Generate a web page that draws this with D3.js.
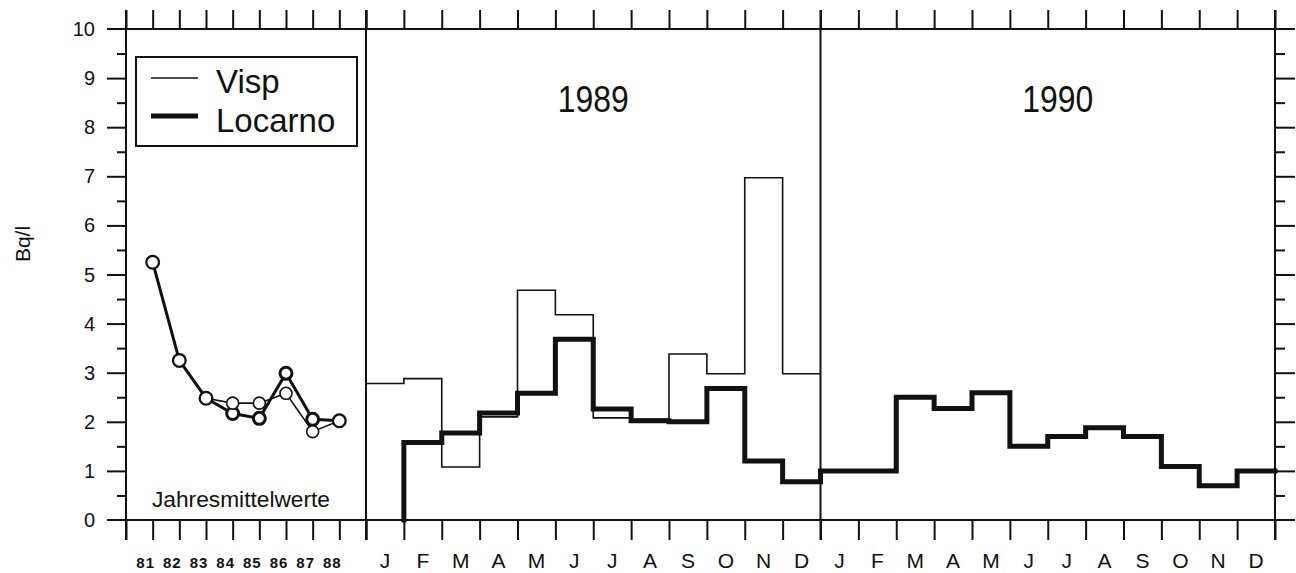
<!DOCTYPE html>
<html>
<head>
<meta charset="utf-8">
<script src="https://cdn.jsdelivr.net/npm/d3@7"></script>
<style>
  body { margin: 0; background: #fff; }
  svg { display: block; }
  text { font-family: "Liberation Sans", Arial, sans-serif; fill: #111; }
</style>
</head>
<body>
<svg id="chart" width="1296" height="573"></svg>
<script>
// annual means 1981-1988
var years = [81, 82, 83, 84, 85, 86, 87, 88];
var vispYear = [5.25, 3.25, 2.48, 2.38, 2.38, 2.58, 1.8, 2.02];
var locarnoYear = [5.25, 3.25, 2.48, 2.17, 2.07, 2.99, 2.05, 2.02];

// monthly values, 1989 + 1990 (24 months)
var months = ["J", "F", "M", "A", "M", "J", "J", "A", "S", "O", "N", "D"];
var vispMonth = [2.78, 2.88, 1.08, 2.1, 4.68, 4.18, 2.08, 2.05, 3.38, 2.98, 6.97, 2.98];
var locarnoMonth = [null, 1.58, 1.77, 2.18, 2.58, 3.68, 2.26, 2.02, 2.0, 2.68, 1.2, 0.78,
                    1.0, 1.0, 2.5, 2.27, 2.59, 1.5, 1.7, 1.88, 1.7, 1.09, 0.7, 1.0];
var panelYears = ["1989", "1990"];
var seriesNames = ["Visp", "Locarno"];

var ink = "#111";
var svg = d3.select("#chart");

var y = d3.scaleLinear().domain([0, 10]).range([520, 29]);
var xYear = d3.scaleLinear().domain([80, 89]).range([126, 366]);
var xMonth = d3.scaleLinear().domain([0, 24]).range([366, 1275]);

// frame lines
svg.append("g").selectAll("line")
  .data([0, 10])
  .enter()
  .append("line")
    .attr("x1", 107).attr("x2", 1295)
    .attr("y1", function(d) { return y(d); })
    .attr("y2", function(d) { return y(d); })
    .attr("stroke", ink).attr("stroke-width", 2);

function tickAxis(axis, g) {
    g.call(axis);
    g.select(".domain").remove();
    g.selectAll(".tick line").attr("stroke", ink).attr("stroke-width", 2);
    g.selectAll(".tick text").remove();
}

// top + bottom ticks
var yearTicks = d3.range(80, 90);
var monthTicks = d3.range(0, 25);
tickAxis(d3.axisTop(xYear).tickValues(yearTicks).tickSize(19),
         svg.append("g").attr("transform", "translate(0," + y(10) + ")"));
tickAxis(d3.axisTop(xMonth).tickValues(monthTicks).tickSize(19),
         svg.append("g").attr("transform", "translate(0," + y(10) + ")"));
tickAxis(d3.axisBottom(xYear).tickValues(yearTicks).tickSize(20),
         svg.append("g").attr("transform", "translate(0," + y(0) + ")"));
tickAxis(d3.axisBottom(xMonth).tickValues(monthTicks).tickSize(20),
         svg.append("g").attr("transform", "translate(0," + y(0) + ")"));

// panel separators / side axes
svg.append("g").selectAll("line")
  .data([xYear(80), xMonth(0), xMonth(12), xMonth(24)])
  .enter()
  .append("line")
    .attr("x1", function(d) { return d; })
    .attr("x2", function(d) { return d; })
    .attr("y1", 10).attr("y2", 540)
    .attr("stroke", ink).attr("stroke-width", 2);

// y ticks, left and right
var major = d3.range(1, 10);
var minor = d3.range(0.5, 10, 1);
tickAxis(d3.axisLeft(y).tickValues(major).tickSize(19),
         svg.append("g").attr("transform", "translate(126,0)"));
tickAxis(d3.axisLeft(y).tickValues(minor).tickSize(9),
         svg.append("g").attr("transform", "translate(126,0)"));
tickAxis(d3.axisRight(y).tickValues(major).tickSize(20),
         svg.append("g").attr("transform", "translate(1275,0)"));
tickAxis(d3.axisRight(y).tickValues(minor).tickSize(10),
         svg.append("g").attr("transform", "translate(1275,0)"));

svg.append("g").selectAll("text")
  .data(d3.range(0, 11))
  .enter()
  .append("text")
    .attr("x", 95)
    .attr("y", function(d) { return y(d) + 7; })
    .attr("text-anchor", "end")
    .style("font-size", "20px")
    .text(function(d) { return d; });

svg.append("text")
  .attr("transform", "translate(30,244) rotate(-90)")
  .attr("text-anchor", "middle")
  .style("font-size", "21px")
  .text("Bq/l");

// x labels
svg.append("g").selectAll("text")
  .data(years)
  .enter()
  .append("text")
    .attr("x", function(d) { return xYear(d) - 7; })
    .attr("y", 568)
    .attr("text-anchor", "middle")
    .style("font-size", "15px")
    .style("font-weight", "bold")
    .style("letter-spacing", "1px")
    .text(function(d) { return d; });

svg.append("g").selectAll("text")
  .data(d3.range(0, 24))
  .enter()
  .append("text")
    .attr("x", function(d) { return xMonth(d + 0.5); })
    .attr("y", 568)
    .attr("text-anchor", "middle")
    .style("font-size", "21px")
    .text(function(d) { return months[d % 12]; });

// year titles
svg.append("g").selectAll("text")
  .data(panelYears)
  .enter()
  .append("text")
    .attr("x", function(d, i) { return xMonth(i * 12 + 6) + (i == 0 ? 0 : 10); })
    .attr("y", 112)
    .attr("text-anchor", "middle")
    .attr("textLength", 71)
    .attr("lengthAdjust", "spacingAndGlyphs")
    .style("font-size", "37px")
    .text(function(d) { return d; });

svg.append("text")
  .attr("x", 152).attr("y", 507)
  .attr("textLength", 178)
  .attr("lengthAdjust", "spacingAndGlyphs")
  .style("font-size", "22px")
  .text("Jahresmittelwerte");

// monthly step lines
function stepPoints(values) {
    var pts = [];
    var first = values.findIndex(function(v) { return v != null; });
    if (first > 0) pts.push([first, 0]);
    for (var i = first; i < values.length; i++) {
        pts.push([i, values[i]]);
    }
    pts.push([values.length, values[values.length - 1]]);
    return pts;
}

var step = d3.line()
  .x(function(d) { return xMonth(d[0]); })
  .y(function(d) { return y(d[1]); })
  .curve(d3.curveStepAfter);

svg.append("path")
  .attr("d", step(stepPoints(vispMonth)))
  .attr("fill", "none").attr("stroke", ink).attr("stroke-width", 1.6);

svg.append("path")
  .attr("d", step(stepPoints(locarnoMonth)))
  .attr("fill", "none").attr("stroke", ink).attr("stroke-width", 5)
  .attr("stroke-linejoin", "miter").attr("stroke-linecap", "square");

// annual means
var annual = d3.line()
  .x(function(d, i) { return xYear(years[i]); })
  .y(function(d) { return y(d); });

function drawAnnual(values, width, r) {
    svg.append("path")
      .attr("d", annual(values))
      .attr("fill", "none").attr("stroke", ink).attr("stroke-width", width);
    svg.append("g").selectAll("circle")
      .data(values)
      .enter()
      .append("circle")
        .attr("cx", function(d, i) { return xYear(years[i]); })
        .attr("cy", function(d) { return y(d); })
        .attr("r", r)
        .attr("fill", "#fff")
        .attr("stroke", ink)
        .attr("stroke-width", width);
}
drawAnnual(locarnoYear, 3, 6);
drawAnnual(vispYear, 1.6, 6);

// legend
var legend = svg.append("g");
legend.append("rect")
  .attr("x", 136).attr("y", 57).attr("width", 221).attr("height", 89)
  .attr("fill", "#fff").attr("stroke", ink).attr("stroke-width", 2);
legend.selectAll("line")
  .data(seriesNames)
  .enter()
  .append("line")
    .attr("x1", 151).attr("x2", 198)
    .attr("y1", function(d, i) { return 78 + i * 38; })
    .attr("y2", function(d, i) { return 78 + i * 38; })
    .attr("stroke", ink)
    .attr("stroke-width", function(d, i) { return i == 0 ? 1.6 : 5; });
legend.selectAll("text")
  .data(seriesNames)
  .enter()
  .append("text")
    .attr("x", 216)
    .attr("y", function(d, i) { return 93 + i * 39; })
    .style("font-size", "33px")
    .text(function(d) { return d; });
</script>
</body>
</html>
